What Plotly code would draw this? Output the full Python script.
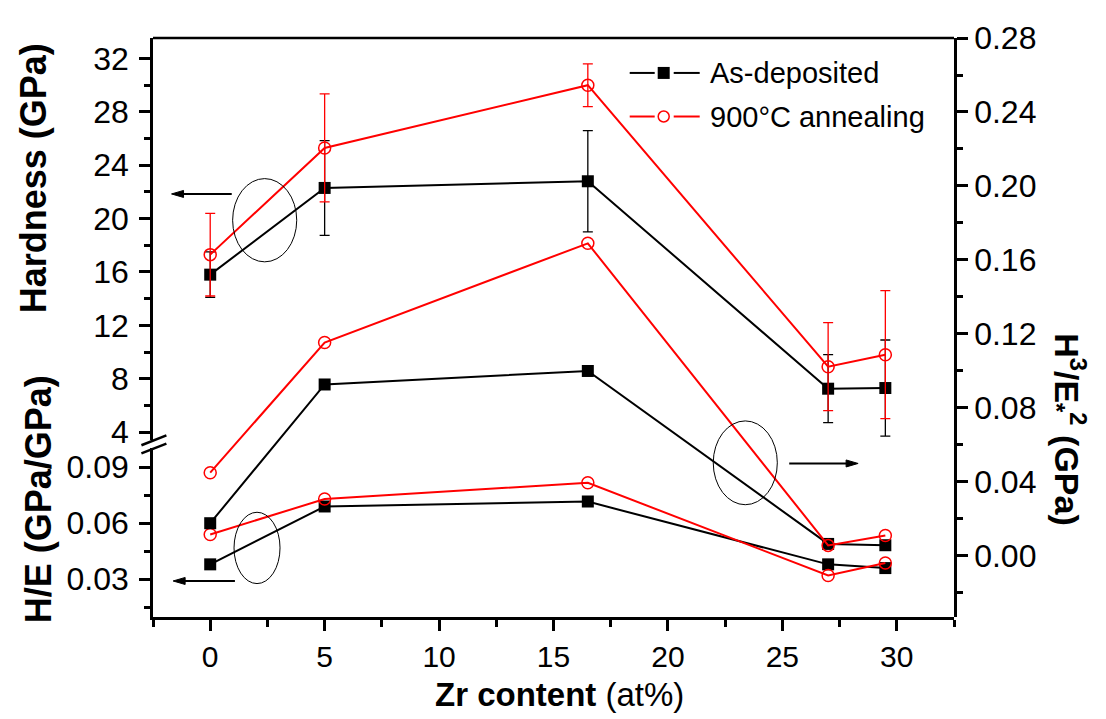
import plotly.graph_objects as go

# ---------------- data ----------------
zr = [0, 5, 16.5, 27, 29.5]
hard_dep = [15.8, 22.3, 22.8, 7.25, 7.3]
hard_dep_err = [1.7, 3.55, 3.8, 2.55, 3.6]
hard_ann = [17.3, 25.3, 30.0, 8.9, 9.8]
hard_ann_err = [3.1, 4.05, 1.6, 3.3, 4.8]
he_dep = [0.038, 0.069, 0.0716, 0.038, 0.036]
he_ann = [0.054, 0.073, 0.0817, 0.032, 0.0387]
h3e2_dep = [0.0177, 0.0927, 0.100, 0.0065, 0.0058]
h3e2_ann = [0.045, 0.1154, 0.169, 0.0057, 0.0111]

series_names = ["As-deposited", "900°C annealing"]
x_ticks = [0, 5, 10, 15, 20, 25, 30]
hard_ticks = [4, 8, 12, 16, 20, 24, 28, 32]
he_ticks = [0.03, 0.06, 0.09]
h3_ticks = [0.00, 0.04, 0.08, 0.12, 0.16, 0.20, 0.24, 0.28]

BLACK = "#000000"
RED = "#ff0000"
FONT = "Arial, Liberation Sans, sans-serif"

# plot-area geometry in page pixels (page has an 8 px body margin)
PX0, PX1, PY0, PY1 = 153.3, 954.3, 26.7, 616.7
PW, PH = PX1 - PX0, PY1 - PY0


def px(xp):
    return (xp - PX0) / PW


def py(yp):
    return (PY1 - yp) / PH


fig = go.Figure()


def dep_style():
    return dict(mode="lines+markers", line=dict(color=BLACK, width=2),
                marker=dict(symbol="square", size=12, color=BLACK))


def ann_style():
    return dict(mode="lines+markers", line=dict(color=RED, width=2),
                marker=dict(symbol="circle-open", size=12, color=RED,
                            line=dict(width=1.5, color=RED)))


# Hardness
fig.add_trace(go.Scatter(x=zr, y=hard_dep, xaxis="x", yaxis="y", name=series_names[0],
                         error_y=dict(type="data", array=hard_dep_err, color=BLACK,
                                      thickness=1.3, width=5), **dep_style()))
fig.add_trace(go.Scatter(x=zr, y=hard_ann, xaxis="x", yaxis="y", name=series_names[1],
                         error_y=dict(type="data", array=hard_ann_err, color=RED,
                                      thickness=1.3, width=5), **ann_style()))
# H/E
fig.add_trace(go.Scatter(x=zr, y=he_dep, xaxis="x", yaxis="y2", name=series_names[0], **dep_style()))
fig.add_trace(go.Scatter(x=zr, y=he_ann, xaxis="x", yaxis="y2", name=series_names[1], **ann_style()))
# H3/E*2
fig.add_trace(go.Scatter(x=zr, y=h3e2_dep, xaxis="x", yaxis="y3", name=series_names[0], **dep_style()))
fig.add_trace(go.Scatter(x=zr, y=h3e2_ann, xaxis="x", yaxis="y3", name=series_names[1], **ann_style()))


def axis_common(size):
    return dict(showgrid=False, zeroline=False, showline=True, linecolor=BLACK,
                linewidth=2.5, ticks="outside", ticklen=11, tickwidth=2.5,
                tickcolor=BLACK, tickfont=dict(family=FONT, size=size, color=BLACK))


W, H = 1098, 711
fig.update_layout(
    width=W, height=H,
    margin=dict(l=PX0 - 8, r=W - (PX1 - 8), t=PY0 - 8, b=H - (PY1 - 8)),
    paper_bgcolor="white", plot_bgcolor="rgba(0,0,0,0)",
    showlegend=False,
    xaxis=dict(range=[-2.5, 32.5], anchor="y2", tickvals=x_ticks,
               minor=dict(dtick=2.5, tick0=-2.5, ticklen=7, tickwidth=2.5,
                          tickcolor=BLACK, ticks="outside"),
               **axis_common(30)),
    yaxis=dict(domain=[0.3056, 1.0], range=[3.40, 33.54], anchor="x",
               tickvals=hard_ticks, ticklabelstandoff=4,
               minor=dict(dtick=4, tick0=2, ticklen=6, tickwidth=2.5,
                          tickcolor=BLACK, ticks="outside"),
               **axis_common(32)),
    yaxis2=dict(domain=[0.0, 0.2915], range=[0.0098, 0.1002], anchor="x",
                tickvals=he_ticks, tickformat=".2f", ticklabelstandoff=4,
                minor=dict(dtick=0.03, tick0=0.015, ticklen=6, tickwidth=2.5,
                           tickcolor=BLACK, ticks="outside"),
                **axis_common(32)),
    yaxis3=dict(domain=[0.0, 1.0], range=[-0.033, 0.28], anchor="x", side="right",
                tickvals=h3_ticks, tickformat=".2f",
                minor=dict(dtick=0.04, tick0=-0.02, ticklen=6, tickwidth=2.5,
                           tickcolor=BLACK, ticks="outside"),
                **axis_common(32)),
)

shapes = []
# top frame line
shapes.append(dict(type="line", xref="paper", yref="paper", x0=0, x1=1, y0=1, y1=1,
                   line=dict(color=BLACK, width=2.5)))
# axis break marks
for (ya, yb) in [(441.7, 431.7), (450.0, 440.0)]:
    shapes.append(dict(type="line", xref="paper", yref="paper", x0=px(141.7), x1=px(166.7),
                       y0=py(ya), y1=py(yb), line=dict(color=BLACK, width=2.5)))
# guide ellipses
ellipses = [("y", 0.98, 3.78, 16.76, 23.0),
            ("y2", 1.04, 3.05, 0.0277, 0.0659),
            ("y3", 21.98, 24.78, 0.0277, 0.073)]
for (yr, x0, x1, y0, y1) in ellipses:
    shapes.append(dict(type="circle", xref="x", yref=yr, x0=x0, x1=x1, y0=y0, y1=y1,
                       line=dict(color=BLACK, width=1)))
# guide arrows: (axis, head x, y, tail x)
arrows = [("y", -1.69, 21.85, 0.94), ("y2", -1.62, 0.0291, 1.08), ("y3", 28.31, 0.05, 25.3)]
for (yr, hx, hy, tx) in arrows:
    direction = -1 if hx < tx else 1
    back = hx - direction * 0.35
    shapes.append(dict(type="line", xref="x", yref=yr, x0=tx, x1=back, y0=hy, y1=hy,
                       line=dict(color=BLACK, width=2)))
    d = -direction
    shapes.append(dict(type="path", xref="x", yref=yr, xsizemode="pixel", ysizemode="pixel",
                       xanchor=hx, yanchor=hy,
                       path=f"M0,0 L{12 * d},-3.5 L{12 * d},3.5 Z",
                       fillcolor=BLACK, line=dict(color=BLACK, width=1)))

# manual legend
leg_rows = [py(62.3), py(106.7)]
leg_marker_x = px(664)
for i, row in enumerate(leg_rows):
    col = BLACK if i == 0 else RED
    for (a, b) in [(630, 655), (674, 700)]:
        shapes.append(dict(type="line", xref="paper", yref="paper", x0=px(a), x1=px(b),
                           y0=row, y1=row, line=dict(color=col, width=2)))
    if i == 0:
        shapes.append(dict(type="rect", xref="paper", yref="paper",
                           xsizemode="pixel", ysizemode="pixel",
                           xanchor=leg_marker_x, yanchor=row, x0=-6, x1=6, y0=-6, y1=6,
                           fillcolor=BLACK, line=dict(color=BLACK, width=0)))
    else:
        shapes.append(dict(type="circle", xref="paper", yref="paper",
                           xsizemode="pixel", ysizemode="pixel",
                           xanchor=leg_marker_x, yanchor=row, x0=-5.5, x1=5.5, y0=-5.5, y1=5.5,
                           fillcolor="white", line=dict(color=RED, width=1.5)))

fig.update_layout(shapes=shapes)

annotations = []
for i, row in enumerate(leg_rows):
    annotations.append(dict(xref="paper", yref="paper", x=px(708), y=row, xanchor="left",
                            yanchor="middle", text=series_names[i], showarrow=False,
                            font=dict(family=FONT, size=29, color=BLACK)))
# axis titles
annotations.append(dict(xref="paper", yref="paper", x=px(34), y=py(170),
                        text="<b>Hardness (GPa)</b>", textangle=-90, showarrow=False,
                        xanchor="center", yanchor="middle",
                        font=dict(family=FONT, size=36, color=BLACK)))
annotations.append(dict(xref="paper", yref="paper", x=px(39), y=py(497),
                        text="<b>H/E (GPa/GPa)</b>", textangle=-90, showarrow=False,
                        xanchor="center", yanchor="middle",
                        font=dict(family=FONT, size=36, color=BLACK)))
annotations.append(dict(xref="paper", yref="paper", x=px(1068), y=py(426),
                        text="<b>H<sup>3</sup>/E<sub>*</sub><sup>2</sup> (GPa)</b>", textangle=90,
                        showarrow=False, xanchor="center", yanchor="middle",
                        font=dict(family=FONT, size=34, color=BLACK)))
annotations.append(dict(xref="paper", yref="paper", x=px(560), y=py(696),
                        text="<b>Zr content</b> (at%)", showarrow=False,
                        xanchor="center", yanchor="middle",
                        font=dict(family=FONT, size=33, color=BLACK)))
fig.update_layout(annotations=annotations)

fig.write_html("out.html")
